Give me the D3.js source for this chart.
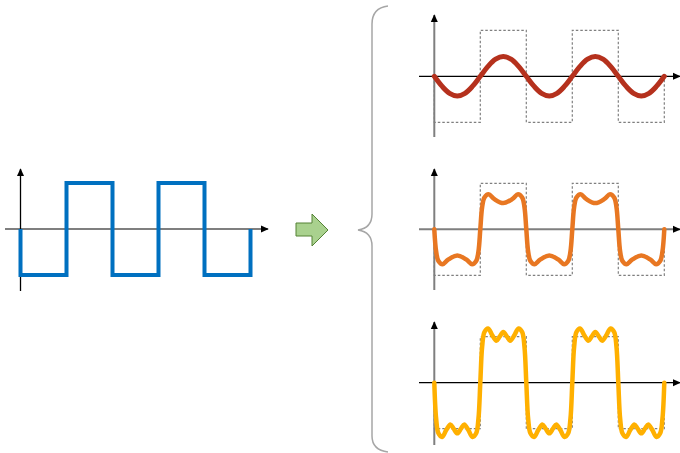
<!DOCTYPE html>
<html><head><meta charset="utf-8">
<script src="https://cdn.jsdelivr.net/npm/d3@7"></script>
<style>html,body{margin:0;padding:0;background:#fff;}svg{display:block;}</style>
</head><body>
<svg id="c" width="680" height="453"></svg>
<script>
// Square wave levels for each half-period (5 half-periods)
const levels = [-1, 1, -1, 1, -1];
// Shape of one half-period [fraction, value relative to square amplitude]
const shape1 = [[0,0],[0.167,0.215],[0.333,0.372],[0.5,0.43],[0.667,0.372],[0.833,0.215],[1,0]];
const shape2 = [[0,0],[0.04,0.48],[0.09,0.69],[0.18,0.76],[0.3,0.66],[0.5,0.57],[0.7,0.66],[0.82,0.76],[0.91,0.69],[0.96,0.48],[1,0]];
const shape3 = [[0,0],[0.04,0.78],[0.09,1.1],[0.17,1.18],[0.26,1.03],[0.35,0.91],[0.42,1.0],[0.5,1.1],[0.58,1.0],[0.65,0.91],[0.74,1.03],[0.83,1.18],[0.91,1.1],[0.96,0.78],[1,0]];

const svg = d3.select("#c");
const defs = svg.append("defs");
defs.append("marker").attr("id","arr").attr("viewBox","0 0 10 10").attr("refX",9).attr("refY",5)
  .attr("markerWidth",8).attr("markerHeight",8).attr("markerUnits","userSpaceOnUse").attr("orient","auto")
  .append("path").attr("d","M0,0.5 L10,5 L0,9.5 Z").attr("fill","#000");

function squarePts(){
  const p=[[0,0]];
  levels.forEach((l,i)=>{p.push([i,l]);p.push([i+1,l]);});
  p.push([levels.length,0]);
  return p;
}
function wavePts(shape){
  const p=[];
  levels.forEach((l,i)=>{
    shape.forEach((s,j)=>{ if(i>0 && j===0) return; p.push([i+s[0], l*s[1]]); });
  });
  return p;
}

function panel(o){
  const x=d3.scaleLinear().domain([0,5]).range([o.x0,o.x0+230]);
  const y=d3.scaleLinear().domain([-1,1]).range([o.y0+46,o.y0-46]);
  const g=svg.append("g");
  // x axis
  g.append("line").attr("x1",o.ax0).attr("x2",o.ax1).attr("y1",o.y0).attr("y2",o.y0)
    .attr("stroke",o.xc).attr("stroke-width",o.xw).attr("marker-end","url(#arr)");
  // y axis
  g.append("line").attr("x1",x(0)).attr("x2",x(0)).attr("y1",o.yb).attr("y2",o.yt)
    .attr("stroke",o.yc).attr("stroke-width",o.yw).attr("marker-end","url(#arr)");
  const line=d3.line().x(d=>x(d[0])).y(d=>y(d[1]));
  if(o.square){
    g.append("path").attr("d",line(squarePts())).attr("fill","none").attr("stroke",o.color)
      .attr("stroke-width",4).attr("stroke-linejoin","miter");
  } else {
    g.append("path").attr("d",line(squarePts())).attr("fill","none").attr("stroke","#7f7f7f")
      .attr("stroke-width",1.2).attr("stroke-dasharray","2.5,2");
    g.append("path").attr("d",line.curve(d3.curveCatmullRom.alpha(0.5))(wavePts(o.shape)))
      .attr("fill","none").attr("stroke",o.color).attr("stroke-width",o.sw).attr("stroke-linecap","round").attr("stroke-linejoin","round");
  }
}

panel({x0:20.5,y0:229,ax0:5,ax1:268,yb:291,yt:169,xc:"#7f7f7f",xw:2,yc:"#000",yw:1.3,square:true,color:"#0070c0"});
panel({x0:434.3,y0:76.3,ax0:419,ax1:680,yb:137,yt:15,xc:"#000",xw:1.3,yc:"#7f7f7f",yw:2,shape:shape1,color:"#b5311d",sw:5});
panel({x0:434.3,y0:229.3,ax0:419,ax1:680,yb:290,yt:169,xc:"#7f7f7f",xw:2,yc:"#7f7f7f",yw:2,shape:shape2,color:"#e87722",sw:4.5});
panel({x0:434.3,y0:382.7,ax0:419,ax1:680,yb:445,yt:322,xc:"#000",xw:1.3,yc:"#7f7f7f",yw:2,shape:shape3,color:"#ffb000",sw:4.5});

// green arrow
svg.append("path").attr("d","M296,223 L312,223 L312,214 L328,230 L312,246 L312,236 L296,236 Z")
  .attr("fill","#a9d18e").attr("stroke","#548235").attr("stroke-width",1);

// brace
svg.append("path").attr("d","M388,6 Q372,8 372,24 L372,214 Q372,228 358,230 Q372,232 372,246 L372,436 Q372,450 388,452")
  .attr("fill","none").attr("stroke","#a6a6a6").attr("stroke-width",1.5);
</script>
</body></html>
